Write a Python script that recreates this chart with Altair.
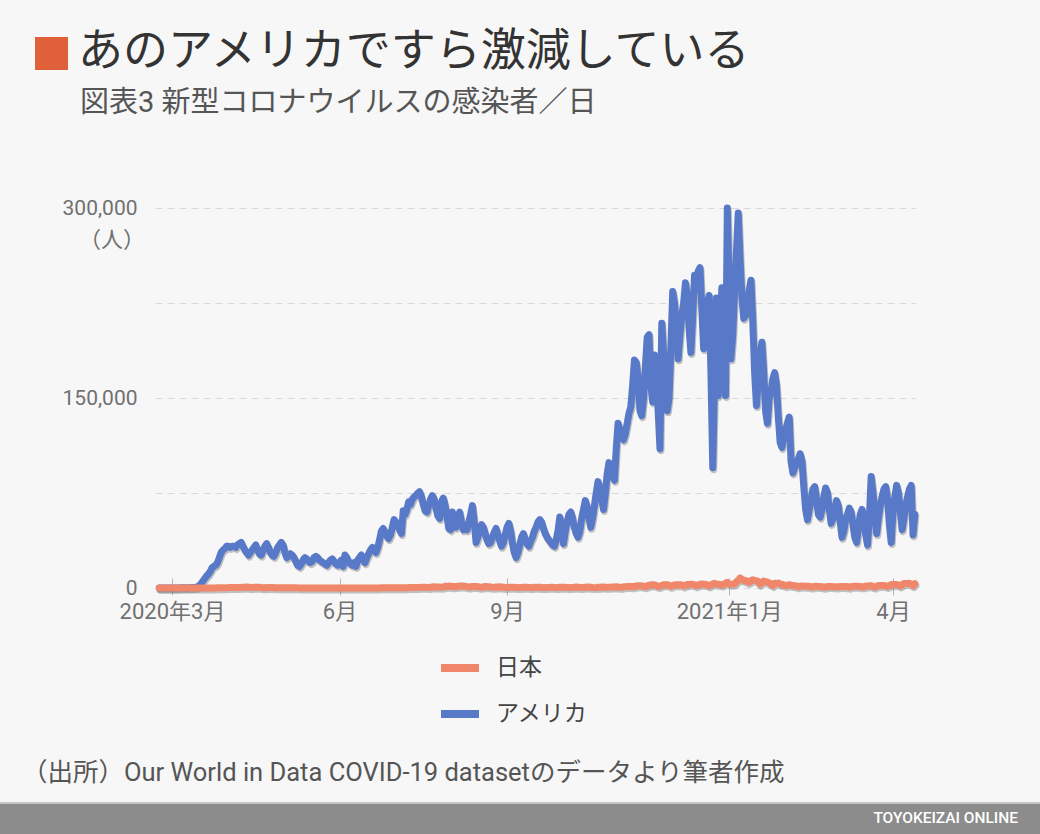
import altair as alt
import pandas as pd

# ---------------- data (daily new cases, thousands of people) ----------------
# weeks run Sunday..Saturday, first day 2020-02-23
us_2020_feb_apr = [
    0, 0, 0, 0, 0, 0, 0,
    0, 0, 0, 0, 0.1, 0.1, 0.1,
    0.1, 0.1, 0.2, 0.3, 0.4, 0.5, 0.6,
    0.8, 2.0, 3.5, 5.5, 7.5, 9.5, 11,
    13, 16, 17, 18, 20, 24, 28,
    30, 31, 33, 33, 32, 33, 33,
    32, 34, 35, 36, 33, 30, 28,
    26, 28, 30, 32, 34, 30, 27,
    26, 30, 33, 35, 32, 28, 26,
]
us_2020_apr_jun = [
    25, 28, 32, 34, 36, 34, 28,
    24, 25, 27, 26, 24, 21, 18,
    17, 19, 22, 24, 23, 21, 20,
    21, 24, 25, 24, 22, 21, 20,
    19, 18, 20, 22, 23, 21, 19,
    18, 20, 22, 17, 26, 24, 21,
    19, 18, 20, 17, 22, 24, 26,
    22, 20, 24, 27, 30, 32, 30,
    28, 32, 38, 45, 47, 44, 41,
]
us_2020_jun_aug = [
    39, 42, 48, 54, 52, 50, 46,
    43, 61, 58, 62, 68, 66, 70,
    72, 73, 75, 76, 72, 66, 61,
    60, 65, 70, 73, 70, 63, 57,
    55, 68, 71, 65, 57, 47, 46,
    60, 55, 48, 55, 60, 52, 46,
    48, 46, 52, 58, 65, 52, 36,
    40, 45, 50, 48, 43, 38, 35,
    36, 40, 44, 47, 42, 37, 33,
]
us_2020_aug_oct = [
    36, 42, 48, 51, 45, 35, 28,
    24, 28, 34, 40, 43, 38, 35,
    33, 37, 40, 45, 48, 52, 54,
    52, 47, 43, 40, 38, 36, 34,
    33, 38, 45, 56, 48, 35, 45,
    52, 58, 60, 55, 48, 43, 40,
    45, 55, 62, 69, 64, 55, 48,
    55, 65, 75, 84, 78, 70, 62,
    75, 90, 99, 94, 88, 85, 110,
]
us_2020_nov_dec = [
    130, 125, 120, 117, 122, 130, 138,
    143, 160, 180, 178, 165, 140, 136,
    150, 175, 198, 200, 160, 147, 184,
    170, 140, 110, 209, 185, 160, 140,
    150, 190, 234, 225, 205, 181, 200,
    215, 225, 241, 230, 205, 186, 215,
    247, 235, 250, 253, 220, 189, 205,
    225, 231, 170, 95, 165, 229, 152,
    200, 237, 200, 152, 300, 240, 181,
]
us_2021_jan_feb = [
    200, 235, 265, 296, 260, 230, 213,
    215, 225, 235, 243, 210, 170, 144,
    165, 185, 194, 170, 140, 130, 150,
    155, 165, 170, 160, 135, 115, 111,
    120, 125, 130, 135, 100, 91, 95,
    98, 102, 106, 100, 80, 62, 54,
    62, 70, 78, 80, 70, 58, 56,
    62, 72, 79, 75, 62, 51, 55,
]
us_2021_mar_apr = [
    62, 69, 65, 52, 40, 45, 55,
    58, 63, 60, 50, 40, 36, 48,
    58, 62, 55, 42, 34, 55, 88,
    75, 60, 43, 55, 65, 72, 78,
    80, 70, 50, 36, 60, 72, 81,
    75, 60, 46, 55, 65, 72, 78,
    81, 42, 58,
]

jp_2020_feb_apr = [
    0.01, 0.02, 0.01, 0.02, 0.03, 0.02, 0.01,
    0.01, 0.02, 0.03, 0.02, 0.03, 0.05, 0.04,
    0.03, 0.03, 0.05, 0.05, 0.05, 0.05, 0.06,
    0.02, 0.02, 0.04, 0.04, 0.05, 0.04, 0.05,
    0.04, 0.04, 0.05, 0.09, 0.10, 0.12, 0.20,
    0.20, 0.10, 0.20, 0.30, 0.30, 0.35, 0.40,
    0.40, 0.30, 0.40, 0.50, 0.55, 0.60, 0.70,
    0.60, 0.35, 0.45, 0.50, 0.55, 0.60, 0.55,
    0.35, 0.20, 0.30, 0.25, 0.30, 0.40, 0.35,
]
jp_2020_apr_jun = [
    0.20, 0.15, 0.20, 0.15, 0.20, 0.20, 0.20,
    0.20, 0.10, 0.10, 0.10, 0.10, 0.10, 0.10,
    0.05, 0.05, 0.05, 0.05, 0.05, 0.05, 0.05,
    0.03, 0.03, 0.03, 0.04, 0.04, 0.04, 0.04,
    0.03, 0.02, 0.03, 0.03, 0.04, 0.05, 0.05,
    0.04, 0.03, 0.04, 0.04, 0.04, 0.05, 0.05,
    0.04, 0.03, 0.04, 0.05, 0.05, 0.05, 0.05,
    0.05, 0.04, 0.04, 0.05, 0.06, 0.06, 0.05,
    0.05, 0.06, 0.07, 0.10, 0.10, 0.10, 0.12,
]
jp_2020_jun_aug = [
    0.10, 0.10, 0.12, 0.15, 0.20, 0.25, 0.27,
    0.25, 0.20, 0.20, 0.25, 0.35, 0.40, 0.40,
    0.35, 0.30, 0.30, 0.50, 0.60, 0.65, 0.60,
    0.50, 0.40, 0.60, 0.80, 0.90, 0.80, 0.80,
    0.80, 0.60, 0.90, 1.30, 1.20, 1.50, 1.40,
    1.20, 0.90, 1.20, 1.30, 1.60, 1.60, 1.50,
    1.40, 1.00, 0.80, 1.00, 1.20, 1.20, 1.20,
    1.00, 0.60, 0.60, 0.90, 1.20, 1.00, 1.00,
    0.80, 0.50, 0.60, 0.80, 0.80, 0.90, 0.80,
]
jp_2020_aug_oct = [
    0.60, 0.40, 0.50, 0.60, 0.60, 0.60, 0.60,
    0.50, 0.30, 0.40, 0.50, 0.60, 0.60, 0.60,
    0.50, 0.30, 0.40, 0.60, 0.50, 0.60, 0.60,
    0.40, 0.30, 0.30, 0.40, 0.50, 0.60, 0.60,
    0.50, 0.30, 0.40, 0.60, 0.60, 0.60, 0.60,
    0.50, 0.30, 0.40, 0.50, 0.60, 0.70, 0.60,
    0.50, 0.30, 0.50, 0.60, 0.70, 0.70, 0.60,
    0.40, 0.30, 0.40, 0.60, 0.60, 0.70, 0.70,
    0.60, 0.50, 0.50, 0.70, 0.80, 0.80, 0.90,
]
jp_2020_nov_dec = [
    0.80, 0.50, 0.60, 0.90, 1.00, 1.10, 1.30,
    1.20, 0.90, 1.30, 1.60, 1.70, 1.70, 1.70,
    1.40, 1.00, 1.70, 2.20, 2.40, 2.60, 2.40,
    2.00, 1.20, 1.50, 2.00, 2.50, 2.60, 2.70,
    2.00, 1.40, 2.00, 2.40, 2.50, 2.50, 2.50,
    2.30, 1.60, 2.20, 2.80, 2.80, 3.00, 3.00,
    2.40, 1.70, 2.40, 3.00, 3.20, 2.80, 2.90,
    2.50, 1.70, 2.50, 3.20, 3.80, 3.00, 3.00,
    2.80, 2.40, 3.00, 3.80, 4.50, 3.20, 3.00,
]
jp_2021_jan_feb = [
    3.10, 3.30, 4.90, 6.00, 7.90, 7.00, 6.00,
    6.00, 4.90, 4.50, 5.90, 6.60, 6.00, 5.80,
    5.00, 3.00, 4.00, 5.50, 5.00, 4.70, 4.00,
    3.00, 2.00, 3.80, 3.50, 4.00, 3.00, 3.00,
    2.50, 1.80, 2.30, 2.60, 2.20, 2.00, 1.80,
    1.60, 1.00, 1.50, 1.70, 1.50, 1.40, 1.30,
    1.30, 0.70, 1.00, 1.30, 1.30, 1.20, 1.20,
    1.00, 0.60, 0.70, 1.20, 1.10, 1.10, 1.00,
]
jp_2021_mar_apr = [
    1.00, 0.80, 1.00, 1.10, 1.20, 1.10, 1.00,
    1.10, 0.60, 1.10, 1.30, 1.30, 1.40, 1.30,
    1.20, 0.90, 1.00, 1.50, 1.50, 1.70, 1.80,
    1.10, 0.80, 1.50, 1.90, 2.00, 2.00, 1.90,
    1.80, 1.20, 2.00, 2.80, 2.60, 2.80, 2.70,
    2.40, 1.60, 2.60, 3.50, 3.50, 3.50, 3.70,
    2.80, 1.80, 3.40,
]

series_names = ["日本", "アメリカ"]
series_colors = ["#f0866a", "#5878c8"]
start_date = "2020-02-23"

us_k = (us_2020_feb_apr + us_2020_apr_jun + us_2020_jun_aug + us_2020_aug_oct
        + us_2020_nov_dec + us_2021_jan_feb + us_2021_mar_apr)
jp_k = (jp_2020_feb_apr + jp_2020_apr_jun + jp_2020_jun_aug + jp_2020_aug_oct
        + jp_2020_nov_dec + jp_2021_jan_feb + jp_2021_mar_apr)


def frame(vals, name):
    d = pd.date_range(start_date, periods=len(vals), freq="D").strftime("%Y-%m-%d")
    return pd.DataFrame({"date": d, "cases": [v * 1000 for v in vals], "country": name})


df = pd.concat([frame(us_k, "アメリカ"), frame(jp_k, "日本")], ignore_index=True)

# ---------------- layout ----------------
FONT = "Roboto, 'Noto Sans CJK JP', sans-serif"
L, T, W, H = 155, 208, 760, 380
one = pd.DataFrame({"k": [0]})

xscale = alt.Scale(type="utc", domain=[
    alt.DateTime(year=2020, month=2, date=20, hours=15, minutes=55, utc=True),
    alt.DateTime(year=2021, month=4, date=13, hours=2, utc=True)])
yscale = alt.Scale(domain=[0, 300000], nice=False)

x_axis = alt.Axis(
    values=[alt.DateTime(year=2020, month=3, date=1, utc=True),
            alt.DateTime(year=2020, month=6, date=1, utc=True),
            alt.DateTime(year=2020, month=9, date=1, utc=True),
            alt.DateTime(year=2021, month=1, date=1, utc=True),
            alt.DateTime(year=2021, month=4, date=1, utc=True)],
    labelExpr="utcyear(datum.value) == 2020 && utcmonth(datum.value) == 2 ? '2020年3月' : "
              "(utcmonth(datum.value) == 0 ? '2021年1月' : (utcmonth(datum.value) + 1) + '月')",
    title=None, grid=False, domain=False, ticks=True, tickColor="#b5b5b5", tickSize=17,
    tickWidth=1, offset=-10, labelPadding=6, labelFontSize=22, labelColor="#707070",
    labelFont=FONT, labelFlush=False)

y_axis = alt.Axis(
    values=[0, 75000, 150000, 225000, 300000],
    labelExpr="datum.value % 150000 == 0 ? format(datum.value, ',') : ''",
    title=None, grid=True, gridDash=[7, 5], gridColor="#d9d9d9", gridWidth=1,
    domain=False, ticks=False, labelPadding=18, labelFontSize=21, labelColor="#707070",
    labelFont=FONT, labelBaseline="middle")

legend = alt.Legend(orient="none", legendX=282, legendY=437, title=None, symbolType="stroke",
                    symbolStrokeWidth=8, symbolSize=1444, labelFontSize=23, labelColor="#444444",
                    labelFont=FONT, labelOffset=13, rowPadding=7, padding=0, direction="vertical")

X = alt.X("date:T", scale=xscale, axis=x_axis)
Y = alt.Y("cases:Q", scale=yscale, axis=y_axis)
C = alt.Color("country:N", scale=alt.Scale(domain=series_names, range=series_colors), legend=legend)

base = alt.Chart(df)


def series(name):
    f = base.transform_filter(alt.datum.country == name)
    shadow = f.mark_line(strokeWidth=7, strokeCap="round", strokeJoin="round", color="#7a7a7a",
                         opacity=0.45, xOffset=1, yOffset=2).encode(x=X, y=Y)
    line = f.mark_line(strokeWidth=7, strokeCap="round", strokeJoin="round").encode(x=X, y=Y, color=C)
    return [shadow, line]


def txt(text, x, y, size, color, align="left", weight="normal"):
    return alt.Chart(one).mark_text(text=text, fontSize=size, color=color, align=align,
                                    baseline="middle", font=FONT, fontWeight=weight).encode(
        x=alt.value(x - L), y=alt.value(y - T))


def box(x1, y1, x2, y2, color):
    return alt.Chart(one).mark_rect(color=color).encode(
        x=alt.value(x1 - L), x2=alt.value(x2 - L), y=alt.value(y1 - T), y2=alt.value(y2 - T))


layers = (
    [box(0, 803, 1040, 834, "#8c8c8c"), box(0, 802, 1040, 804, "#c4c4c4")]
    + series("アメリカ") + series("日本")
    + [
        box(35, 37, 68, 70, "#e0603a"),
        txt("あのアメリカですら激減している", 78, 52, 45, "#333333"),
        txt("図表3 新型コロナウイルスの感染者／日", 80, 103, 29, "#555555"),
        txt("（人）", 145, 240, 22, "#707070", align="right"),
        txt("（出所）Our World in Data COVID-19 datasetのデータより筆者作成", 22, 773, 25.5, "#555555"),
        txt("TOYOKEIZAI ONLINE", 1018, 818, 15.5, "#ffffff", align="right", weight=500),
    ]
)

chart = alt.layer(*layers).properties(
    width=W, height=H, autosize="none",
    padding={"left": L, "top": T, "right": 1040 - L - W, "bottom": 834 - T - H},
    background="#f7f7f7",
).configure_view(stroke=None)

chart.save("out.html", embed_options={"renderer": "svg", "actions": False})
